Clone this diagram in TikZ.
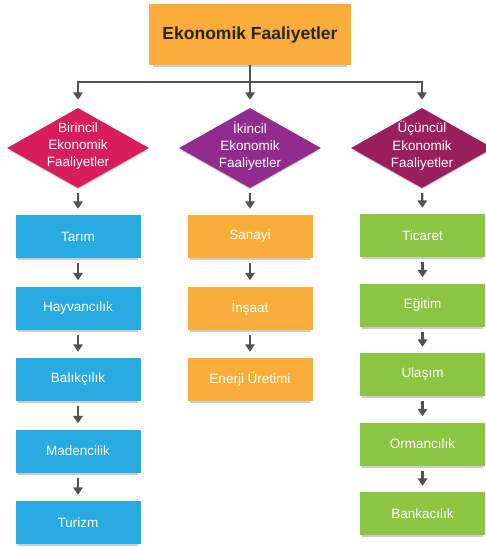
\documentclass[tikz,border=0pt]{standalone}
\usepackage{fontspec}
\setmainfont{Liberation Sans}
\usetikzlibrary{positioning, shapes.geometric, arrows.meta, shadows}
\definecolor{topC}{HTML}{FAAD3A}
\definecolor{dOne}{HTML}{D81D5C}
\definecolor{dTwo}{HTML}{912B8E}
\definecolor{dThree}{HTML}{9C1F5D}
\definecolor{colB}{HTML}{29AAE1}
\definecolor{colO}{HTML}{F9AE3C}
\definecolor{colG}{HTML}{8CC541}
\colorlet{arr}{black!68}
\tikzset{
  soft/.style    ={drop shadow={shadow xshift=0pt, shadow yshift=-3pt,
                   shadow scale=0.96, opacity=0.2, fill=black}},
  head/.style    ={soft, fill=topC, minimum width=202pt, minimum height=61pt,
                   inner sep=0pt, font=\fontsize{17.5}{20}\selectfont\bfseries,
                   text=black!85},
  diam/.style    ={soft, diamond, minimum width=142pt, minimum height=80pt,
                   inner sep=0pt},
  dtext/.style   ={align=center, text=white, inner sep=0pt,
                   font=\fontsize{13.5}{17.3}\selectfont},
  card/.style    ={soft, minimum width=125pt, minimum height=43pt, inner sep=0pt,
                   text=white, font=\fontsize{13.5}{16}\selectfont},
  Lblue/.style   ={card, fill=colB},
  Lorange/.style ={card, fill=colO},
  Lgreen/.style  ={card, fill=colG},
  link/.style    ={arr, line width=2.3pt},
  flow/.style    ={link, -{Triangle[width=9.5pt, length=7.5pt]}},
  step down/.style={flow, shorten <=5pt, shorten >=6pt},
}
\begin{document}
\begin{tikzpicture}[x=1pt, y=-1pt]
\useasboundingbox (0,0) rectangle (486,547);

\node[head] (top) at (250, 34.5) {Ekonomik Faaliyetler};

% diamonds
\node[diam, fill=dOne]   (d1) at ( 78, 148) {};
\node[diam, fill=dTwo]   (d2) at (250, 148) {};
\node[diam, fill=dThree] (d3) at (422, 148) {};
\node[dtext] (t1) at ( 78, 146) {Birincil\\Ekonomik\\Faaliyetler};
\node[dtext] (t2) at (250, 146) {İkincil\\Ekonomik\\Faaliyetler};
\node[dtext] (t3) at (422, 146) {Üçüncül\\Ekonomik\\Faaliyetler};

\coordinate (split) at (250, 82);
\draw[link] (top.south) -- (split);
\draw[flow, shorten >=8pt] (split) -| (d1.north);
\draw[flow, shorten >=8pt] (split) -- (d2.north);
\draw[flow, shorten >=8pt] (split) -| (d3.north);

% columns
\foreach \t [count=\i] in {Tarım, Hayvancılık, Balıkçılık, Madencilik, Turizm}
  \node[Lblue] (b\i) at (78, {236.5+71.5*(\i-1)}) {\t};
\foreach \t [count=\i] in {Sanayi, İnşaat, Enerji Üretimi}
  \node[Lorange] (o\i) at (250, {236.5+71.5*(\i-1)}) {\t};
\foreach \t [count=\i] in {Ticaret, Eğitim, Ulaşım, Ormancılık, Bankacılık}
  \node[Lgreen] (g\i) at (422.5, {235.5+69.5*(\i-1)}) {\t};

\draw[step down] (d1) -- (b1);
\draw[step down] (d2) -- (o1);
\draw[step down] (d3) -- (g1);
\foreach \i/\j in {1/2, 2/3, 3/4, 4/5} {
  \draw[step down] (b\i) -- (b\j);
  \draw[step down] (g\i) -- (g\j);
}
\foreach \i/\j in {1/2, 2/3}
  \draw[step down] (o\i) -- (o\j);

\end{tikzpicture}
\end{document}
